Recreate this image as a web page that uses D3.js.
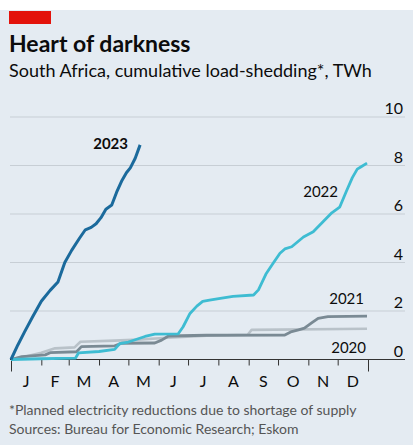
<!DOCTYPE html>
<html>
<head>
<meta charset="utf-8">
<script src="https://cdn.jsdelivr.net/npm/d3@7"></script>
<style>
  html, body { margin: 0; padding: 0; background: #fff; }
  svg { display: block; }
  text { font-family: Lato, "Noto Sans", sans-serif; }
</style>
</head>
<body>
<svg id="chart" width="413" height="445"></svg>
<script>
// ---- data ----
const monthLabels = ["J","F","M","A","M","J","J","A","S","O","N","D"];
const monthStartDays = [0,31,59,90,120,151,181,212,243,273,304,334,365];
const yTicks = [0,2,4,6,8,10];

const days2023 = [0,7,14,22,31,40,48,55,62,70,76,82,87,92,97,103,108,113,118,122,127,132];
const vals2023 = [0,0.6,1.15,1.75,2.4,2.85,3.2,4.0,4.5,5.0,5.35,5.45,5.6,5.85,6.2,6.37,6.9,7.35,7.7,7.9,8.3,8.85];

const days2022 = [0,30,66,69,90,106,111,120,137,147,171,176,183,190,196,203,214,227,248,253,261,268,275,280,287,299,309,319,328,336,343,349,354,358,364];
const vals2022 = [0,0.03,0.06,0.27,0.33,0.42,0.65,0.72,0.95,1.05,1.06,1.35,1.9,2.2,2.4,2.45,2.52,2.6,2.66,2.87,3.55,3.97,4.38,4.56,4.65,5.05,5.27,5.68,6.05,6.28,6.95,7.5,7.85,7.95,8.1];

const days2021 = [0,11,35,40,67,72,106,113,147,154,161,200,280,287,294,300,307,314,324,364];
const vals2021 = [0,0.12,0.19,0.28,0.32,0.53,0.56,0.67,0.68,0.8,0.97,1.0,1.01,1.15,1.22,1.29,1.5,1.7,1.77,1.79];

const days2020 = [0,15,31,45,65,71,106,130,160,200,242,246,364];
const vals2020 = [0,0.12,0.28,0.46,0.5,0.73,0.78,0.82,0.9,0.98,1.02,1.22,1.27];

const seriesNames = ["2020","2021","2022","2023"];

// ---- build ----
const series = [
  {name:"2020", days:days2020, vals:vals2020, color:"#b9c2c9", width:2.6},
  {name:"2021", days:days2021, vals:vals2021, color:"#7a8a94", width:2.8},
  {name:"2022", days:days2022, vals:vals2022, color:"#3ebcd2", width:2.8},
  {name:"2023", days:days2023, vals:vals2023, color:"#1b6a9c", width:3}
];

const svg = d3.select("#chart");
const W = 413, H = 445;

svg.append("rect").attr("x",0).attr("y",0).attr("width",W).attr("height",H).attr("fill","#fff");
svg.append("rect").attr("x",0).attr("y",10).attr("width",W).attr("height",H-10).attr("fill","#e4ebf2");
svg.append("rect").attr("x",9).attr("y",11).attr("width",42).attr("height",13).attr("fill","#e3120b");

svg.append("text").attr("x",9).attr("y",52)
  .attr("font-size",23).attr("font-weight",700).attr("fill","#0c0c0c")
  .text("Heart of darkness");
svg.append("text").attr("x",9).attr("y",77)
  .attr("font-size",18).attr("fill","#0c0c0c")
  .text("South Africa, cumulative load-shedding*, TWh");

const x = d3.scaleLinear().domain([0,365]).range([11,368]);
const y = d3.scaleLinear().domain([0,10]).range([359.5,117]);

// gridlines + y labels
const gy = svg.append("g");
yTicks.forEach(t => {
  if (t > 0) {
    gy.append("line").attr("x1",10).attr("x2",405)
      .attr("y1",y(t)).attr("y2",y(t))
      .attr("stroke","#c7ced5").attr("stroke-width",1);
  }
  gy.append("text").attr("x",403).attr("y",y(t)-3)
    .attr("text-anchor","end").attr("font-size",16).attr("fill","#0c0c0c")
    .text(t);
});

// x axis
const xAxis = d3.axisBottom(x)
  .tickValues(monthStartDays)
  .tickSize(6)
  .tickFormat("");
const ax = svg.append("g").attr("transform",`translate(0,${y(0)})`).call(xAxis);
ax.select(".domain").remove();
ax.selectAll(".tick line").attr("stroke","#333").attr("stroke-width",1)
  .attr("y2", d => (d===0 || d===365) ? 12 : 6);
svg.append("line").attr("x1",10).attr("x2",405).attr("y1",y(0)).attr("y2",y(0))
  .attr("stroke","#333").attr("stroke-width",1);

monthLabels.forEach((m,i) => {
  const mid = (monthStartDays[i]+monthStartDays[i+1])/2;
  svg.append("text").attr("x",x(mid)).attr("y",387)
    .attr("text-anchor","middle").attr("font-size",16).attr("fill","#0c0c0c")
    .text(m);
});

// lines
const line = d3.line().x(d=>x(d[0])).y(d=>y(d[1]));
series.forEach(s => {
  const pts = s.days.map((d,i)=>[d, s.vals[i]]);
  svg.append("path").datum(pts).attr("d",line)
    .attr("fill","none").attr("stroke",s.color).attr("stroke-width",s.width)
    .attr("stroke-linejoin","round").attr("stroke-linecap","butt");
});

// series labels
svg.append("text").attr("x",128).attr("y",149).attr("text-anchor","end")
  .attr("font-size",15).attr("font-weight",700).attr("fill","#0c0c0c").text(seriesNames[3]);
svg.append("text").attr("x",338).attr("y",197).attr("text-anchor","end")
  .attr("font-size",15).attr("fill","#0c0c0c").text(seriesNames[2]);
svg.append("text").attr("x",364).attr("y",304).attr("text-anchor","end")
  .attr("font-size",15).attr("fill","#0c0c0c").text(seriesNames[1]);
svg.append("text").attr("x",366).attr("y",353).attr("text-anchor","end")
  .attr("font-size",15).attr("fill","#0c0c0c").text(seriesNames[0]);

// footnotes
svg.append("text").attr("x",9).attr("y",415)
  .attr("font-size",14).attr("fill","#555")
  .text("*Planned electricity reductions due to shortage of supply");
svg.append("text").attr("x",9).attr("y",434)
  .attr("font-size",14).attr("fill","#555")
  .text("Sources: Bureau for Economic Research; Eskom");
</script>
</body>
</html>
